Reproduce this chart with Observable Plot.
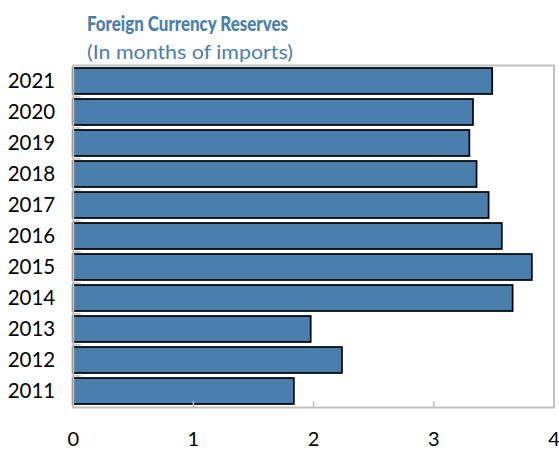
<!DOCTYPE html>
<html>
<head>
<meta charset="utf-8">
<script src="https://cdn.jsdelivr.net/npm/d3@7"></script>
<script src="https://cdn.jsdelivr.net/npm/@observablehq/plot@0.6"></script>
<style>
  html, body { margin: 0; padding: 0; background: #fff; }
  body { width: 559px; height: 451px; overflow: hidden; font-family: Lato, "Open Sans", sans-serif; }
  #header { position: relative; height: 62px; }
  #title { position: absolute; left: 87px; top: 13px; font-size: 20px; line-height: 20px; font-weight: 900; color: #4a7eb0; white-space: nowrap; transform-origin: 0 0; }
  #subtitle { position: absolute; left: 87px; top: 41px; font-size: 20px; line-height: 20px; color: #4a7eb0; white-space: nowrap; transform-origin: 0 0; }
  #chart svg { display: block; }
</style>
</head>
<body>
<div id="header">
  <div id="title">Foreign Currency Reserves</div>
  <div id="subtitle">(In months of imports)</div>
</div>
<div id="chart"></div>
<script>
const years = ["2011", "2012", "2013", "2014", "2015", "2016", "2017", "2018", "2019", "2020", "2021"];
const reserves = [1.84, 2.24, 1.98, 3.66, 3.82, 3.57, 3.46, 3.36, 3.30, 3.33, 3.49];
const xTicks = [0, 1, 2, 3, 4];

const data = years.map((y, i) => ({year: y, value: reserves[i]}));
const yOrder = years.slice().reverse();

const W = 559, H = 389;
const mTop = 3, mBottom = 44, mLeft = 72.7, mRight = 5.5;
const innerH = H - mTop - mBottom;
const step = innerH / years.length;
const pad = 0.15;
const font = 'Lato, "Open Sans", sans-serif';

const chart = Plot.plot({
  width: W,
  height: H,
  marginTop: mTop,
  marginBottom: mBottom,
  marginLeft: mLeft,
  marginRight: mRight,
  style: {fontFamily: font, background: "#fff", overflow: "visible"},
  x: {domain: [0, 4]},
  y: {domain: yOrder, paddingInner: pad, paddingOuter: pad / 2},
  marks: [
    Plot.barX(data, {x: "value", y: "year", fill: "#4a7eac", stroke: "#000", strokeWidth: 1.7}),
    Plot.ruleY(yOrder.slice(1), {y: d => d, x1: 0, x2: 8 / 120.2, dy: -step / 2, stroke: "#c0c0c0", strokeWidth: 1.5}),
    Plot.ruleX([1, 2, 3], {x: d => d, insetTop: innerH - 6, stroke: "#c0c0c0", strokeWidth: 1.5}),
    Plot.frame({stroke: "#c0c0c0", strokeWidth: 2}),
    Plot.axisX({ticks: xTicks, tickSize: 0, tickPadding: 24, tickFormat: d => String(d), fontSize: 20, fill: "#000", label: null}),
    Plot.axisY({tickSize: 0, tickPadding: 18, fontSize: 20.5, fill: "#000", label: null})
  ]
});
document.getElementById("chart").appendChild(chart);

function fit(id, target) {
  const el = document.getElementById(id);
  const w = el.getBoundingClientRect().width;
  if (w > 0) el.style.transform = `scaleX(${target / w})`;
}
fit("title", 201);
fit("subtitle", 206);
</script>
</body>
</html>
